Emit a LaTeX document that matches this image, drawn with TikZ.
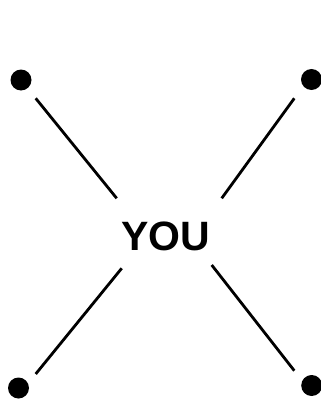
\documentclass[tikz,border=0pt]{standalone}
\usepackage{fontspec}
\setmainfont{Liberation Sans}
\begin{document}
\begin{tikzpicture}[x=1pt,y=-1pt,
  dot/.style={circle,fill=black,inner sep=0pt,minimum size=21pt},
  link/.style={line width=2.8pt,black},
  you/.style={font=\fontsize{41}{41}\selectfont\bfseries,inner sep=0pt}]
\useasboundingbox (0,0) rectangle (321,404);
\node[dot] (tl) at (21,80) {};
\node[dot] (tr) at (311.5,79.5) {};
\node[dot] (bl) at (18.5,388) {};
\node[dot] (br) at (311.7,385.5) {};
\node[you] (y) at (165.5,236.5) {YOU};
\coordinate (tla) at (35.7,98.3);
\coordinate (tlb) at (116.7,198.3);
\coordinate (tra) at (294.3,98.3);
\coordinate (trb) at (221.7,198.3);
\coordinate (bla) at (35.7,374);
\coordinate (blb) at (121.7,268.3);
\coordinate (bra) at (294.3,370.7);
\coordinate (brb) at (211.7,265);
\draw[link] (tla) -- (tlb);
\draw[link] (tra) -- (trb);
\draw[link] (bla) -- (blb);
\draw[link] (bra) -- (brb);
\end{tikzpicture}
\end{document}
